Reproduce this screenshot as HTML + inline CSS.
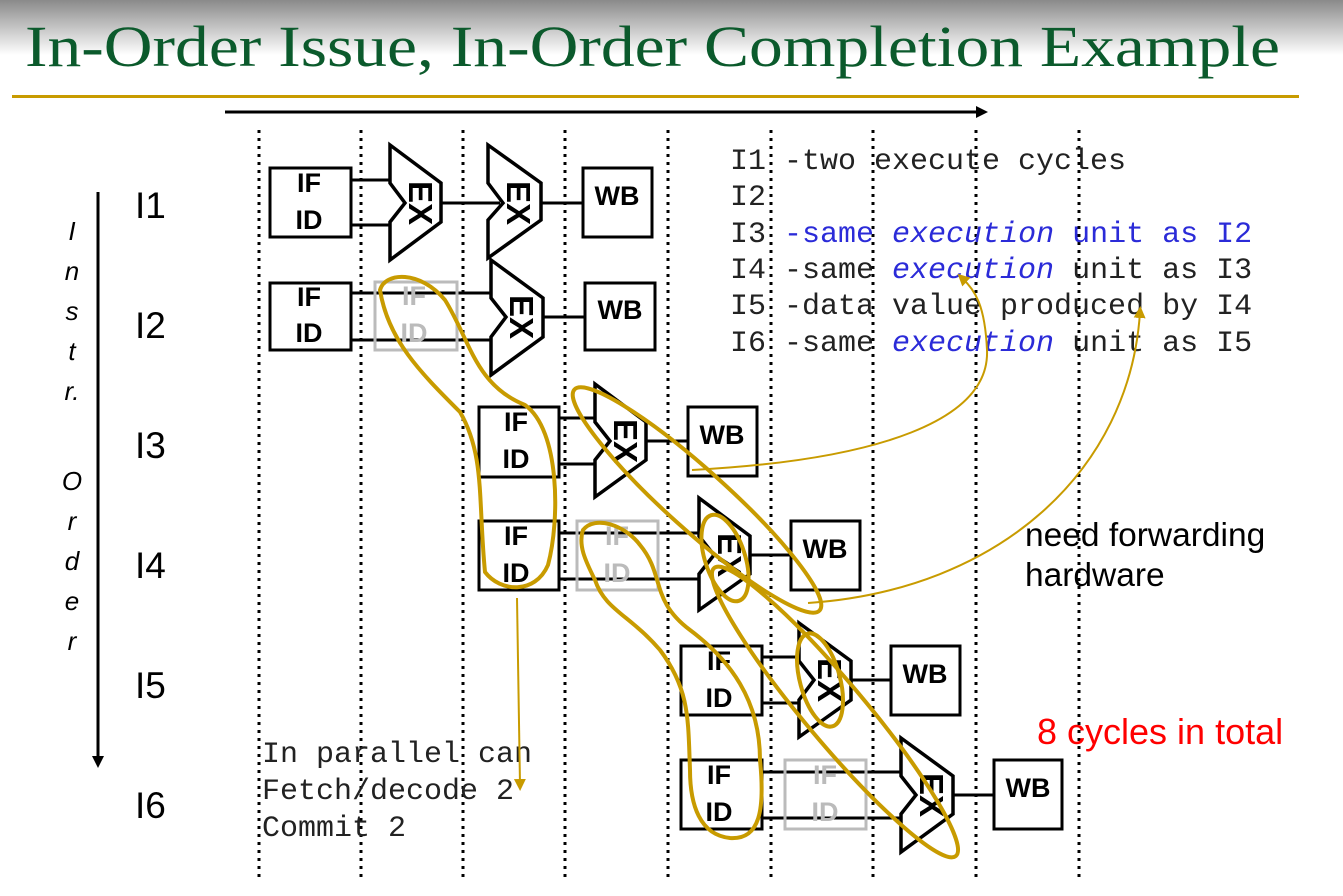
<!DOCTYPE html>
<html><head><meta charset="utf-8"><style>
html,body{margin:0;padding:0;background:#fff;}
svg{display:block;}
</style></head><body>
<svg width="1343" height="896" viewBox="0 0 1343 896" xmlns="http://www.w3.org/2000/svg">
<defs>
<linearGradient id="g" x1="0" y1="0" x2="0" y2="1">
<stop offset="0" stop-color="#8a8a8a"/><stop offset="1" stop-color="#ffffff"/>
</linearGradient>
<marker id="ah" viewBox="0 0 10 10" refX="5" refY="5" markerWidth="6" markerHeight="6" orient="auto-start-reverse">
<path d="M0,0 L10,5 L0,10 z" fill="#c89b00"/></marker>
<marker id="bh" viewBox="0 0 10 10" refX="5" refY="5" markerWidth="4" markerHeight="4" orient="auto">
<path d="M0,0 L10,5 L0,10 z" fill="#000"/></marker>
</defs>
<rect x="0" y="0" width="1343" height="55" fill="url(#g)"/>
<text x="25" y="66" font-family="Liberation Serif, serif" font-size="58" fill="#0b5a2c" textLength="1255" lengthAdjust="spacingAndGlyphs">In-Order Issue, In-Order Completion Example</text>
<rect x="12" y="95" width="1287" height="3" fill="#c89b00"/>
<line x1="225" y1="112" x2="982" y2="112" stroke="#000" stroke-width="3" marker-end="url(#bh)"/>
<line x1="98" y1="192" x2="98" y2="762" stroke="#000" stroke-width="3" marker-end="url(#bh)"/>
<g font-family="Liberation Sans, sans-serif" font-style="italic" font-size="26" fill="#000" text-anchor="middle">
<text x="72" y="240">I</text><text x="72" y="280">n</text><text x="72" y="320">s</text><text x="72" y="360">t</text><text x="72" y="400">r.</text>
<text x="72" y="490">O</text><text x="72" y="530">r</text><text x="72" y="570">d</text><text x="72" y="610">e</text><text x="72" y="650">r</text>
</g>
<g font-family="Liberation Sans, sans-serif" font-size="37" fill="#000">
<text x="135" y="218">I1</text><text x="135" y="338">I2</text><text x="135" y="458">I3</text>
<text x="135" y="578">I4</text><text x="135" y="698">I5</text><text x="135" y="818">I6</text>
</g>
<g stroke="#000" stroke-width="3" stroke-dasharray="3,5">
<line x1="259" y1="130" x2="259" y2="880"/><line x1="361" y1="130" x2="361" y2="880"/>
<line x1="463" y1="130" x2="463" y2="880"/><line x1="565" y1="130" x2="565" y2="880"/>
<line x1="668" y1="130" x2="668" y2="880"/><line x1="771" y1="130" x2="771" y2="880"/>
<line x1="873" y1="130" x2="873" y2="880"/><line x1="976" y1="130" x2="976" y2="880"/>
<line x1="1079" y1="130" x2="1079" y2="880"/>
</g>
<g stroke="#000" stroke-width="3">
<line x1="351" y1="180" x2="391" y2="180"/><line x1="351" y1="225" x2="391" y2="225"/>
<line x1="441" y1="203" x2="500" y2="203"/><line x1="541" y1="203" x2="583" y2="203"/>
<line x1="351" y1="293" x2="493" y2="293"/><line x1="351" y1="340" x2="493" y2="340"/>
<line x1="543" y1="317" x2="585" y2="317"/>
<line x1="559" y1="418" x2="596" y2="418"/><line x1="559" y1="464" x2="596" y2="464"/>
<line x1="646" y1="441" x2="688" y2="441"/>
<line x1="559" y1="533" x2="700" y2="533"/><line x1="559" y1="579" x2="700" y2="579"/>
<line x1="750" y1="555" x2="791" y2="555"/>
<line x1="762" y1="657" x2="800" y2="657"/><line x1="762" y1="703" x2="800" y2="703"/>
<line x1="851" y1="680" x2="891" y2="680"/>
<line x1="762" y1="772" x2="902" y2="772"/><line x1="762" y1="818" x2="902" y2="818"/>
<line x1="953" y1="795" x2="994" y2="795"/>
</g>
<g fill="none" stroke="#bbb" stroke-width="3">
<rect x="375" y="282" width="82" height="68"/><rect x="577" y="521" width="81" height="69"/><rect x="785" y="760" width="81" height="69"/>
</g>
<g font-family="Liberation Sans, sans-serif" font-weight="bold" font-size="27" fill="#bbb" text-anchor="middle">
<text x="414" y="305">IF</text><text x="414" y="342">ID</text>
<text x="617" y="545">IF</text><text x="617" y="582">ID</text>
<text x="825" y="784">IF</text><text x="825" y="821">ID</text>
</g>
<g fill="#fff" stroke="#000" stroke-width="3">
<rect x="270" y="168" width="81" height="69"/><rect x="583" y="168" width="69" height="69"/>
<rect x="270" y="283" width="81" height="67"/><rect x="585" y="283" width="70" height="67"/>
<rect x="479" y="407" width="80" height="70"/><rect x="688" y="407" width="69" height="69"/>
<rect x="479" y="521" width="80" height="69"/><rect x="791" y="521" width="69" height="69"/>
<rect x="681" y="646" width="81" height="69"/><rect x="891" y="646" width="69" height="69"/>
<rect x="681" y="760" width="81" height="69"/><rect x="994" y="760" width="68" height="69"/>
</g>
<g font-family="Liberation Sans, sans-serif" font-weight="bold" font-size="27" fill="#000" text-anchor="middle">
<text x="309" y="192">IF</text><text x="309" y="229">ID</text>
<text x="309" y="306">IF</text><text x="309" y="342">ID</text>
<text x="516" y="431">IF</text><text x="516" y="468">ID</text>
<text x="516" y="545">IF</text><text x="516" y="582">ID</text>
<text x="719" y="670">IF</text><text x="719" y="707">ID</text>
<text x="719" y="784">IF</text><text x="719" y="821">ID</text>
<text x="617" y="205">WB</text><text x="620" y="319">WB</text><text x="722" y="444">WB</text>
<text x="825" y="558">WB</text><text x="925" y="683">WB</text><text x="1028" y="797">WB</text>
</g>
<g fill="#fff" stroke="#000" stroke-width="3.5">
<path d="M390,145 L441,183 L441,222 L390,260 L390,222 L405,203 L390,183 Z"/>
<path d="M488,145 L541,183 L541,220 L488,258 L488,220 L503,203 L488,183 Z"/>
<path d="M491,260 L543,298 L543,337 L491,375 L491,337 L506,317 L491,298 Z"/>
<path d="M595,384 L646,422 L646,460 L595,497 L595,460 L610,441 L595,422 Z"/>
<path d="M699,498 L750,536 L750,574 L699,610 L699,574 L714,555 L699,536 Z"/>
<path d="M799,623 L851,661 L851,700 L799,737 L799,700 L814,680 L799,661 Z"/>
<path d="M901,738 L953,776 L953,814 L901,852 L901,814 L916,795 L901,776 Z"/>
</g>
<g font-family="Liberation Sans, sans-serif" font-weight="bold" font-size="33" fill="#000" text-anchor="middle">
<text transform="translate(421,203) rotate(90)" y="12">EX</text>
<text transform="translate(519,203) rotate(90)" y="12">EX</text>
<text transform="translate(522,317) rotate(90)" y="12">EX</text>
<text transform="translate(626,441) rotate(90)" y="12">EX</text>
<text transform="translate(730,555) rotate(90)" y="12">EX</text>
<text transform="translate(830,680) rotate(90)" y="12">EX</text>
<text transform="translate(932,795) rotate(90)" y="12">EX</text>
</g>
<g font-family="Liberation Mono, monospace" font-size="30" fill="#222">
<text x="730" y="169">I1 -two execute cycles</text>
<text x="730" y="205">I2</text>
<text x="730" y="242">I3 <tspan fill="#2b2bd8">-same <tspan font-style="italic">execution</tspan> unit as I2</tspan></text>
<text x="730" y="278">I4 -same <tspan fill="#2b2bd8" font-style="italic">execution</tspan> unit as I3</text>
<text x="730" y="314">I5 -data value produced by I4</text>
<text x="730" y="351">I6 -same <tspan fill="#2b2bd8" font-style="italic">execution</tspan> unit as I5</text>
</g>
<g font-family="Liberation Mono, monospace" font-size="30" fill="#222">
<text x="262" y="762">In parallel can</text>
<text x="262" y="799">Fetch/decode 2</text>
<text x="262" y="836">Commit 2</text>
</g>
<g font-family="Liberation Sans, sans-serif" font-size="33.5" fill="#000">
<text x="1025" y="546">need forwarding</text><text x="1025" y="586">hardware</text>
</g>
<text x="1037" y="744" font-family="Liberation Sans, sans-serif" font-size="36" fill="#f00">8 cycles in total</text>
<g fill="none" stroke="#c89b00" stroke-width="4">
<path d="M380,290 C385,272 420,270 445,300 C470,340 475,385 525,405 C560,430 560,520 548,565 C535,595 500,592 485,572 C478,500 485,455 460,412 C420,372 388,340 380,290 Z"/>
<path d="M583,530 C595,515 625,525 640,545 C665,575 650,600 690,630 C730,660 760,700 760,760 C765,810 760,840 730,838 C700,835 690,805 690,770 C688,720 690,690 660,650 C630,615 605,610 595,580 C585,560 578,545 583,530 Z"/>
<ellipse cx="697" cy="500" rx="165" ry="30" transform="rotate(42 697 500)"/>
<ellipse cx="835" cy="712" rx="188" ry="30" transform="rotate(50 835 712)"/>
<ellipse cx="725" cy="558" rx="45" ry="20" transform="rotate(72 725 558)"/>
<ellipse cx="820" cy="680" rx="48" ry="20" transform="rotate(75 820 680)"/>
</g>
<g fill="none" stroke="#c89b00" stroke-width="2">
<path d="M692,470 C880,460 990,420 987,350 C985,305 975,290 962,278" marker-end="url(#ah)"/>
<path d="M808,603 C1000,590 1130,470 1140,312" marker-end="url(#ah)"/>
<path d="M517,598 L520,785" marker-end="url(#ah)"/>
</g>
</svg>
</body></html>
